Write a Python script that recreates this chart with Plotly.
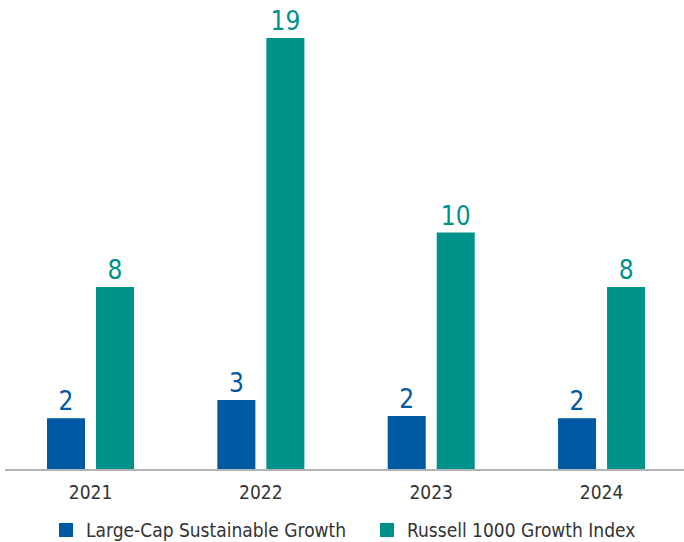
import plotly.graph_objects as go

years = ["2021", "2022", "2023", "2024"]
series_names = ["Large-Cap Sustainable Growth", "Russell 1000 Growth Index"]
large_cap = [2.2, 3.0, 2.3, 2.2]
russell = [8.0, 19.0, 10.4, 8.0]

blue = "#0059A3"
teal = "#00928A"
font_family = "DejaVu Sans Condensed, Roboto, sans-serif"

fig = go.Figure()
fig.add_trace(go.Bar(
    x=years, y=large_cap, name=series_names[0],
    marker=dict(color=blue, line=dict(width=2, color=blue)),
    width=0.2114, offset=-0.2495,
    texttemplate="%{y:.0f}", textposition="outside",
    textfont=dict(size=26, color=blue, family=font_family),
    cliponaxis=False, legend="legend",
))
fig.add_trace(go.Bar(
    x=years, y=russell, name=series_names[1],
    marker=dict(color=teal, line=dict(width=2, color=teal)),
    width=0.2114, offset=0.0382,
    texttemplate="%{y:.0f}", textposition="outside",
    textfont=dict(size=26, color=teal, family=font_family),
    cliponaxis=False, legend="legend2",
))

legend_common = dict(
    orientation="h", xanchor="left",
    yref="container", y=0.022, yanchor="middle", xref="container",
    font=dict(size=19, color="#333333", family=font_family),
    itemwidth=30, bgcolor="rgba(0,0,0,0)",
)

fig.update_layout(
    width=684, height=542,
    margin=dict(l=5, r=0, t=0, b=73),
    paper_bgcolor="white", plot_bgcolor="white",
    barmode="group",
    font=dict(family=font_family, color="#333333"),
    xaxis=dict(
        type="category", range=[-0.502, 3.484],
        showline=True, linecolor="#b3b3b3", linewidth=2,
        showgrid=False, ticks="", tickfont=dict(size=19, color="#333333"),
        ticklabelstandoff=5,
    ),
    yaxis=dict(range=[0, 20.72], visible=False, showgrid=False),
    showlegend=True,
    legend=dict(legend_common, x=46 / 684),
    legend2=dict(legend_common, x=367 / 684),
)

fig.write_html("out.html")
